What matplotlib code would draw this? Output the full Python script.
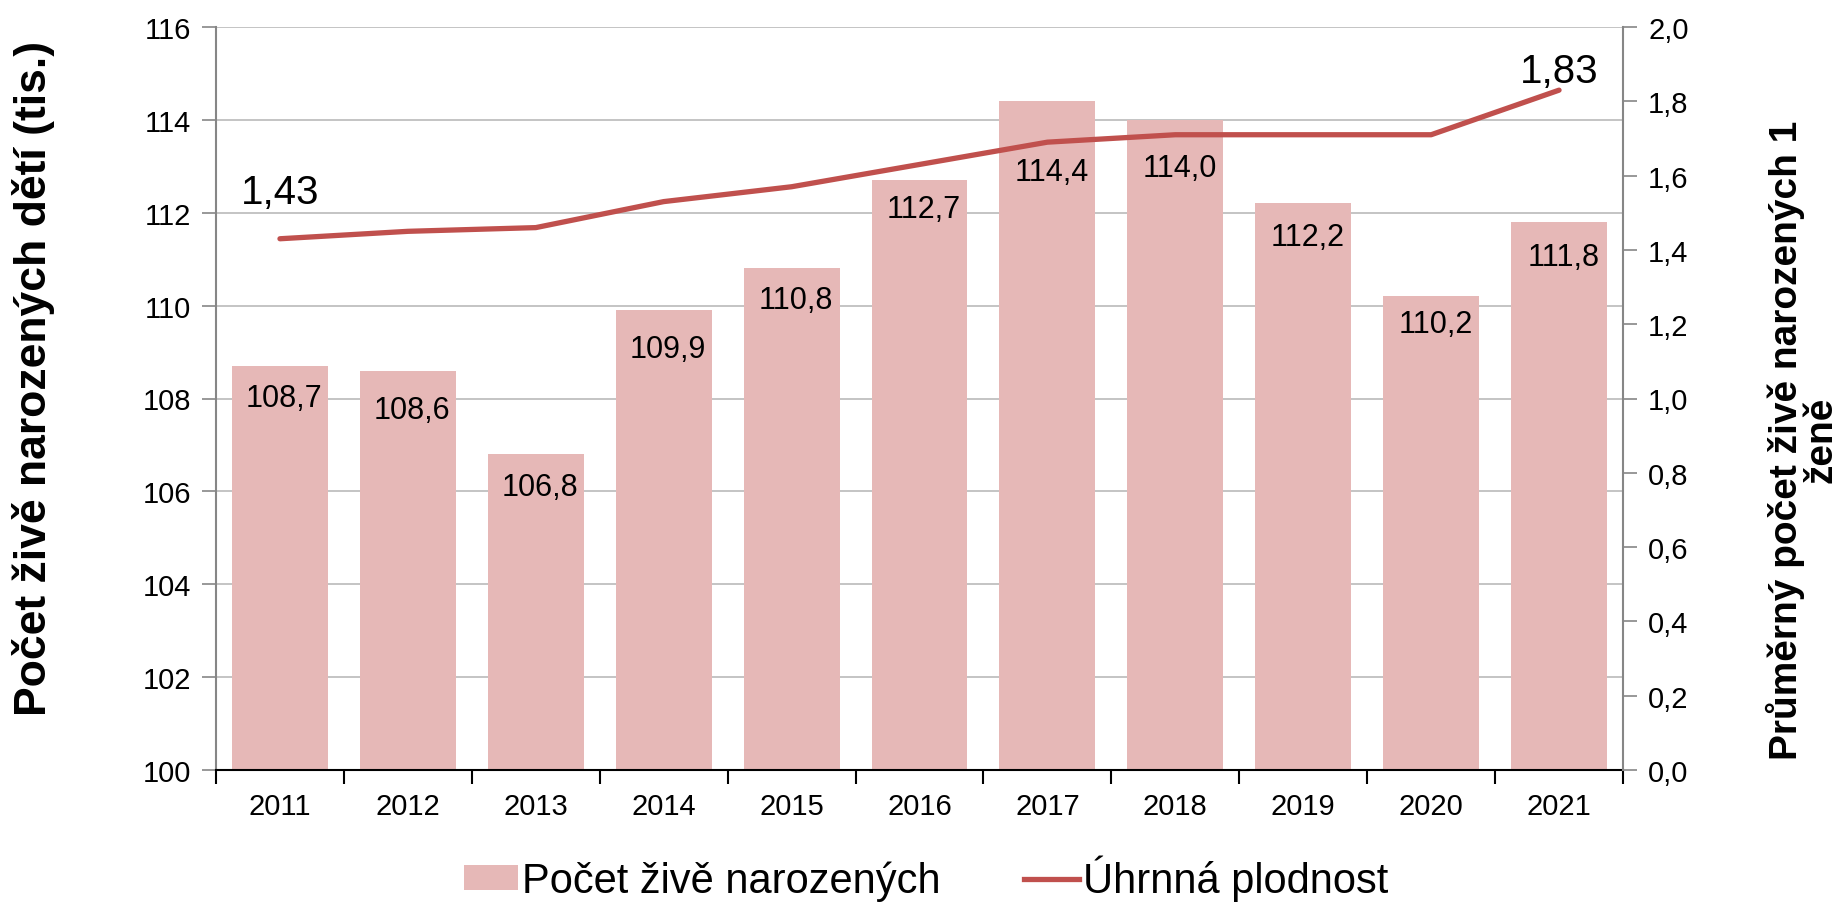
import matplotlib
matplotlib.use("Agg")
import matplotlib.pyplot as plt
from matplotlib.ticker import FuncFormatter, FixedLocator
from matplotlib.font_manager import fontManager
from matplotlib.patches import Patch
from matplotlib.lines import Line2D

years = ["2011", "2012", "2013", "2014", "2015", "2016", "2017", "2018", "2019", "2020", "2021"]
births = [108.7, 108.6, 106.8, 109.9, 110.8, 112.7, 114.4, 114.0, 112.2, 110.2, 111.8]
fertility = [1.43, 1.45, 1.46, 1.53, 1.57, 1.63, 1.69, 1.71, 1.71, 1.71, 1.83]
left_ticks = [100, 102, 104, 106, 108, 110, 112, 114, 116]
right_ticks = [0.0, 0.2, 0.4, 0.6, 0.8, 1.0, 1.2, 1.4, 1.6, 1.8, 2.0]

bar_name = "Počet živě narozených"
line_name = "Úhrnná plodnost"
left_title = "Počet živě narozených dětí (tis.)"
right_title = "Průměrný počet živě narozených 1\nženě"

# label placement below each bar top (pixels) -- layout only
label_drop_px = [32, 39, 33, 39, 32, 29, 71, 48, 34, 28, 35]

names = {f.name for f in fontManager.ttflist}
base = "Liberation Sans" if "Liberation Sans" in names else "DejaVu Sans"
plt.rcParams["font.family"] = [base, "DejaVu Sans"]

BAR_C = "#E6B8B7"
LINE_C = "#C0504D"
GRID_C = "#BFBFBF"
SPINE_C = "#868686"

def comma(v, p=None):
    return f"{v:.1f}".replace(".", ",")

fig = plt.figure(figsize=(18.38, 9.03), dpi=100)
ax = fig.add_axes([216 / 1838, 132 / 903, (1623 - 216) / 1838, (771 - 28) / 903])
x = list(range(len(years)))

ax.bar(x, [b - 100 for b in births], bottom=100, width=0.75, color=BAR_C, zorder=2)
ax.set_ylim(100, 116)
ax.set_xlim(-0.5, len(years) - 0.5)
ax.set_yticks(left_ticks)
ax.yaxis.grid(True, color=GRID_C, linewidth=1.3, zorder=0)
ax.set_axisbelow(True)
ax.tick_params(axis="y", which="major", length=10, width=1.2, color=SPINE_C, labelsize=21, pad=8, direction="out")

ax.xaxis.set_major_locator(FixedLocator([i - 0.5 for i in range(len(years) + 1)]))
ax.xaxis.set_minor_locator(FixedLocator(x))
ax.set_xticklabels([], minor=False)
ax.set_xticklabels(years, minor=True)
ax.tick_params(axis="x", which="major", length=10, width=1.5, color="black", direction="out")
ax.tick_params(axis="x", which="minor", length=0, labelsize=21, pad=16)

for s in ["top", "right"]:
    ax.spines[s].set_visible(False)
ax.spines["left"].set_color(SPINE_C)
ax.spines["left"].set_linewidth(1.5)
ax.spines["bottom"].set_color("black")
ax.spines["bottom"].set_linewidth(1.5)

for xi, b, d in zip(x, births, label_drop_px):
    ax.annotate(comma(b), (xi, b), xytext=(3, -d * 0.72), textcoords="offset points",
                ha="center", va="center", fontsize=22, zorder=5)

ax2 = ax.twinx()
ax2.plot(x, fertility, color=LINE_C, linewidth=3.8, solid_capstyle="round", zorder=4)
ax2.set_ylim(0, 2.0)
ax2.set_yticks(right_ticks)
ax2.yaxis.set_major_formatter(FuncFormatter(comma))
ax2.tick_params(axis="y", length=10, width=1.2, color=SPINE_C, labelsize=21, pad=8, direction="out")
for s in ["top", "left", "bottom"]:
    ax2.spines[s].set_visible(False)
ax2.spines["right"].set_color(SPINE_C)
ax2.spines["right"].set_linewidth(1.5)

ax2.annotate(f"{fertility[0]:.2f}".replace(".", ","), (x[0], fertility[0]), xytext=(0, 34),
             textcoords="offset points", ha="center", va="center", fontsize=29)
ax2.annotate(f"{fertility[-1]:.2f}".replace(".", ","), (x[-1], fertility[-1]), xytext=(0, 14),
             textcoords="offset points", ha="center", va="center", fontsize=29)

fig.text(34 / 1838, 1 - 378 / 903, left_title, rotation=90, ha="center", va="center",
         fontsize=32, fontweight="bold")
fig.text(1803 / 1838, 1 - 440 / 903, right_title, rotation=90, ha="center", va="center",
         fontsize=28, fontweight="bold", linespacing=0.95, multialignment="center")

handles = [Patch(facecolor=BAR_C, edgecolor="none", label=bar_name),
           Line2D([0], [0], color=LINE_C, linewidth=3.8, label=line_name)]
fig.legend(handles=handles, loc="center", bbox_to_anchor=(926 / 1838, 24 / 903), ncol=2,
           frameon=False, fontsize=30, handlelength=1.3, handleheight=0.55,
           handletextpad=0.1, columnspacing=2.0)

fig.savefig("out.png", dpi=100)
